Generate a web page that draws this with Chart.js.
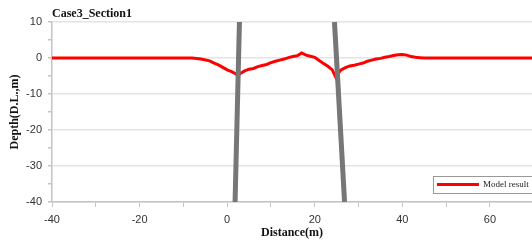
<!DOCTYPE html>
<html>
<head>
<meta charset="utf-8">
<script src="https://cdn.jsdelivr.net/npm/chart.js@4.4.1/dist/chart.umd.min.js"></script>
<style>
  html, body { margin: 0; padding: 0; background: #fff; }
  #wrap { width: 532px; height: 241px; position: relative; }
</style>
</head>
<body>
<div id="wrap"><canvas id="chart"></canvas></div>
<script>
// section profile
var distance = [-40, -8, -6, -4, -3, -2, -1, 0, 1, 2, 2.4, 3, 4, 5, 6, 7, 8, 9, 10, 11, 12, 13, 14, 15, 16, 17, 18, 19, 20, 21, 22, 23, 24, 24.8, 25.5, 26, 27, 28, 29, 30, 31, 32, 33, 34, 35, 36, 37, 38, 39, 40, 41, 42, 43, 44, 45, 46, 70];
var depth = [0, 0, -0.3, -0.8, -1.4, -1.9, -2.6, -3.3, -3.8, -4.4, -5.0, -4.3, -3.6, -3.1, -2.9, -2.4, -2.1, -1.8, -1.3, -0.9, -0.6, -0.3, 0.1, 0.4, 0.6, 1.4, 0.8, 0.5, 0.2, -0.7, -1.5, -2.3, -3.3, -5.4, -4.0, -3.3, -2.7, -2.2, -2.0, -1.7, -1.4, -0.9, -0.6, -0.3, -0.1, 0.2, 0.4, 0.7, 0.9, 1.0, 0.8, 0.4, 0.2, 0.1, 0, 0, 0];
// the two grey walls (bottom x, top x) between depth -40 and 10
var wallA = [1.8, 2.8];
var wallB = [26.8, 24.5];
var wallDepth = [-40, 10];
var xTicks = [-40, -30, -20, -10, 0, 10, 20, 30, 40, 50, 60];
var yTicks = [-40, -35, -30, -25, -20, -15, -10, -5, 0, 5, 10];

var serif = '"Liberation Serif", "Times New Roman", serif';
var sans = '"Liberation Sans", Arial, sans-serif';

function toPoints(xs, ys) {
  var pts = [];
  for (var i = 0; i < xs.length; i++) pts.push({ x: xs[i], y: ys[i] });
  return pts;
}

var extras = {
  id: 'extras',
  afterDraw: function(chart) {
    var ctx = chart.ctx;
    var area = chart.chartArea;
    ctx.save();
    // title
    ctx.fillStyle = '#111';
    ctx.font = 'bold 12px ' + serif;
    ctx.textBaseline = 'middle';
    ctx.textAlign = 'left';
    ctx.fillText('Case3_Section1', area.left, 14);
    // legend box in the lower right corner
    var bx = 433, by = 176, bw = 104, bh = 17;
    ctx.fillStyle = '#fff';
    ctx.fillRect(bx, by, bw, bh);
    ctx.strokeStyle = '#999';
    ctx.lineWidth = 1;
    ctx.strokeRect(bx + 0.5, by + 0.5, bw, bh);
    ctx.strokeStyle = '#ff0000';
    ctx.lineWidth = 3;
    ctx.beginPath();
    ctx.moveTo(bx + 4, by + 8.5);
    ctx.lineTo(bx + 46, by + 8.5);
    ctx.stroke();
    ctx.fillStyle = '#222';
    ctx.font = '9px ' + serif;
    ctx.fillText('Model result', bx + 50, by + 9);
    ctx.restore();
  }
};

new Chart(document.getElementById('chart'), {
  type: 'scatter',
  data: {
    datasets: [
      {
        label: 'Model result',
        data: toPoints(distance, depth),
        showLine: true,
        borderColor: '#ff0000',
        backgroundColor: '#ff0000',
        borderWidth: 3,
        pointRadius: 0,
        tension: 0,
        order: 2
      },
      {
        label: 'wallA',
        data: toPoints(wallA, wallDepth),
        showLine: true,
        borderColor: '#777',
        borderWidth: 5,
        pointRadius: 0,
        order: 1
      },
      {
        label: 'wallB',
        data: toPoints(wallB, wallDepth),
        showLine: true,
        borderColor: '#777',
        borderWidth: 5,
        pointRadius: 0,
        order: 1
      }
    ]
  },
  options: {
    responsive: true,
    maintainAspectRatio: false,
    animation: false,
    layout: { padding: { top: 22, right: 0, left: 0, bottom: 0 } },
    plugins: {
      legend: { display: false },
      tooltip: { enabled: false },
      title: { display: false }
    },
    scales: {
      x: {
        type: 'linear',
        min: -40,
        max: 69.6,
        afterBuildTicks: function(scale) {
          scale.ticks = xTicks.map(function(v) { return { value: v }; });
        },
        afterFit: function(scale) { scale.height = 39; },
        border: { color: '#c4c4c4', width: 1.5 },
        grid: {
          drawOnChartArea: false,
          drawTicks: true,
          tickLength: 5,
          tickColor: '#c4c4c4'
        },
        ticks: {
          autoSkip: false,
          maxRotation: 0,
          padding: 6,
          color: '#333',
          font: { family: sans, size: 11 },
          callback: function(v) { return v % 20 === 0 ? String(v) : ''; }
        },
        title: {
          display: true,
          text: 'Distance(m)',
          color: '#111',
          font: { family: serif, size: 12, weight: 'bold' },
          padding: { top: 0, bottom: 1 }
        }
      },
      y: {
        type: 'linear',
        min: -40,
        max: 10,
        afterBuildTicks: function(scale) {
          scale.ticks = yTicks.map(function(v) { return { value: v }; });
        },
        afterFit: function(scale) { scale.width = 52; },
        border: { color: '#c4c4c4', width: 1.5 },
        grid: {
          drawTicks: true,
          tickLength: 4,
          lineWidth: 1.5,
          color: function(c) {
            var v = c.tick ? c.tick.value : 0;
            return v % 10 === 0 ? '#e4e4e4' : 'rgba(0,0,0,0)';
          },
          tickColor: '#c4c4c4'
        },
        ticks: {
          autoSkip: false,
          padding: 6,
          color: '#333',
          font: { family: sans, size: 11 },
          callback: function(v) { return v % 10 === 0 ? String(v) : ''; }
        },
        title: {
          display: true,
          text: 'Depth(D.L.,m)',
          color: '#111',
          font: { family: serif, size: 12, weight: 'bold' },
          padding: { top: 8, bottom: 0 }
        }
      }
    }
  },
  plugins: [extras]
});
</script>
</body>
</html>
